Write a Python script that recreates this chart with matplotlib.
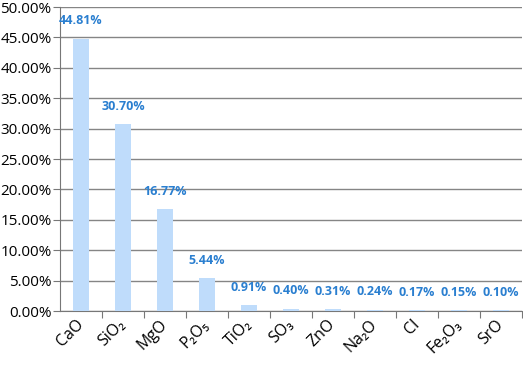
import numpy as np
import matplotlib.pyplot as plt
import matplotlib.transforms as mtransforms
from matplotlib.ticker import PercentFormatter

# oxide composition (mass %)
oxides = ["CaO", "SiO₂", "MgO", "P₂O₅", "TiO₂", "SO₃", "ZnO", "Na₂O", "Cl", "Fe₂O₃", "SrO"]
percent = [44.81, 30.70, 16.77, 5.44, 0.91, 0.40, 0.31, 0.24, 0.17, 0.15, 0.10]

plt.rcParams['font.family'] = ['Open Sans', 'DejaVu Sans']

fig = plt.figure(figsize=(5.23, 3.89), dpi=100)
ax = fig.add_axes([0.1147, 0.2005, 0.8833, 0.7815])

x = np.arange(len(oxides))
ax.bar(x, percent, width=0.4, color="#bfdcfb", zorder=3)

# value labels above bars
for xi, v in zip(x, percent):
    ax.annotate("%.2f%%" % v, (xi, v), xytext=(0, 8), textcoords="offset points",
                ha="center", va="bottom", fontsize=9, fontweight="bold",
                color="#2a7fd0", zorder=4)

ax.set_xlim(-0.5, len(oxides) - 0.5)
ax.set_ylim(0, 50)
ax.set_yticks(np.arange(0, 51, 5))
ax.yaxis.set_major_formatter(PercentFormatter(decimals=2))
ax.grid(axis="y", color="#858585", linewidth=1, zorder=0)

# ticks at category boundaries, labels at centers
ax.set_xticks(np.arange(0.5, len(oxides) - 0.5 + 1e-9, 1.0))
ax.set_xticklabels([])
ax.set_xticks(x, minor=True)
ax.set_xticklabels(oxides, minor=True, rotation=45, ha="right", va="center",
                   rotation_mode="anchor", fontsize=11.5)
shift = mtransforms.ScaledTranslation(-4 / 72, 0, fig.dpi_scale_trans)
for lab in ax.get_xticklabels(minor=True):
    lab.set_transform(lab.get_transform() + shift)
ax.tick_params(axis="x", which="minor", length=0, pad=8)
ax.tick_params(axis="x", which="major", length=5, color="#777777")
ax.tick_params(axis="y", length=5, color="#777777", labelsize=11, pad=1)

for side in ["top", "right"]:
    ax.spines[side].set_visible(False)
for side in ["left", "bottom"]:
    ax.spines[side].set_color("#777777")

fig.savefig("out.png", dpi=100)
